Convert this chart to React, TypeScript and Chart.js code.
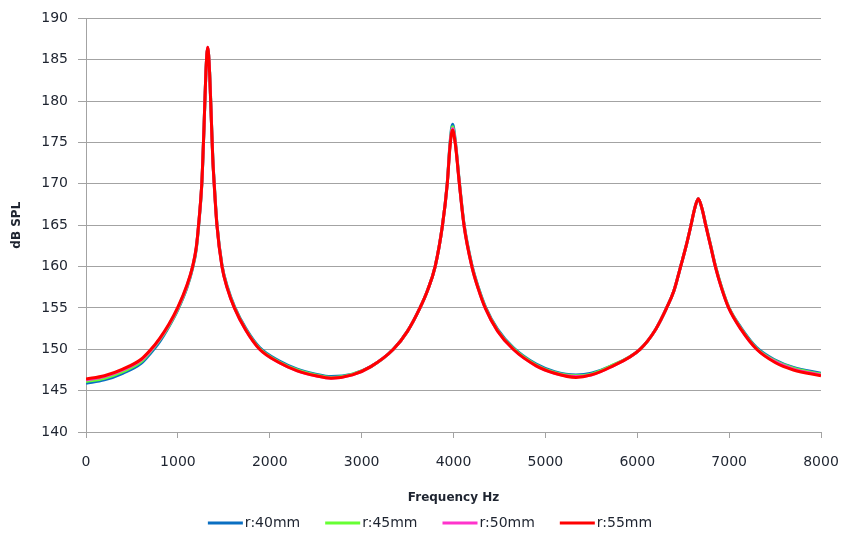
import React, { useEffect, useRef } from "react";
import { Chart, registerables } from "chart.js";

Chart.register(...registerables);

// Frequency grid (Hz)
const FREQ = [
  0, 200, 400, 600, 700, 800, 900, 1000, 1100, 1160,
  1200, 1225, 1260, 1270, 1285, 1305, 1325, 1345, 1365, 1380,
  1395, 1425, 1480, 1540, 1615, 1740, 1890, 2100, 2300, 2500,
  2667, 2900, 3100, 3345, 3500, 3635, 3720, 3800, 3880, 3932,
  3962, 3990, 4020, 4064, 4114, 4200, 4270, 4345, 4480, 4650,
  4900, 5100, 5333, 5500, 5700, 6030, 6200, 6320, 6400, 6472,
  6530, 6585, 6625, 6664, 6705, 6745, 6800, 6850, 6920, 6995,
  7130, 7300, 7500, 7700, 8000,
];

// dB SPL, r = 40 mm
const R40 = [
  145.9, 146.3, 147.1, 148.3, 149.5, 150.9, 152.7, 154.8, 157.5, 159.8,
  162.1, 164.8, 169.8, 172.4, 176.9, 183.4, 186.4, 183.6, 177.7, 173.2,
  170.2, 165.2, 160.2, 157.5, 155.2, 152.5, 150.2, 148.6, 147.6, 147.0,
  146.7, 147.0, 147.9, 150.0, 152.2, 155.0, 157.2, 160.0, 165.0, 170.1,
  174.9, 177.2, 175.2, 170.2, 165.2, 160.2, 157.5, 155.2, 152.4, 150.2,
  148.2, 147.3, 146.9, 147.1, 147.9, 150.0, 152.4, 155.0, 157.1, 160.0,
  162.4, 165.0, 167.0, 168.2, 167.0, 165.1, 162.5, 160.1, 157.4, 155.1,
  152.6, 150.2, 148.7, 147.8, 147.1,
];

// dB SPL, r = 45 mm
const R45 = [
  146.1, 146.5, 147.3, 148.5, 149.7, 151.1, 152.8, 154.9, 157.6, 159.9,
  162.2, 164.9, 169.9, 172.5, 177.0, 183.5, 186.4, 183.6, 177.6, 173.1,
  170.1, 165.1, 160.1, 157.4, 155.1, 152.4, 150.1, 148.5, 147.5, 146.9,
  146.6, 147.0, 147.9, 150.0, 152.2, 155.0, 157.2, 160.0, 165.0, 170.0,
  174.7, 176.9, 175.0, 170.1, 165.1, 160.1, 157.4, 155.1, 152.3, 150.1,
  148.1, 147.2, 146.8, 147.0, 147.9, 150.0, 152.4, 155.0, 157.1, 160.0,
  162.4, 165.0, 167.0, 168.2, 167.0, 165.1, 162.5, 160.1, 157.4, 155.1,
  152.5, 150.1, 148.6, 147.7, 147.0,
];

// dB SPL, r = 50 mm
const R50 = [
  146.3, 146.7, 147.5, 148.7, 149.8, 151.2, 152.9, 155.0, 157.7, 160.0,
  162.3, 165.0, 170.0, 172.5, 177.0, 183.5, 186.5, 183.5, 177.5, 173.0,
  170.0, 165.0, 160.0, 157.3, 155.0, 152.3, 150.0, 148.4, 147.4, 146.8,
  146.5, 146.9, 147.9, 150.0, 152.2, 155.0, 157.2, 160.0, 165.0, 170.0,
  174.6, 176.7, 174.9, 170.0, 165.0, 160.0, 157.3, 155.0, 152.2, 150.0,
  148.0, 147.1, 146.7, 146.9, 147.8, 150.0, 152.4, 155.0, 157.1, 160.0,
  162.4, 165.0, 167.0, 168.2, 167.0, 165.0, 162.4, 160.0, 157.3, 155.0,
  152.4, 150.0, 148.5, 147.6, 146.9,
];

// dB SPL, r = 55 mm
const R55 = [
  146.4, 146.8, 147.6, 148.8, 149.9, 151.3, 153.0, 155.1, 157.8, 160.0,
  162.3, 165.0, 170.0, 172.5, 177.0, 183.5, 186.5, 183.5, 177.5, 173.0,
  170.0, 165.0, 160.0, 157.3, 155.0, 152.3, 150.0, 148.4, 147.4, 146.8,
  146.5, 146.9, 147.9, 150.0, 152.2, 155.0, 157.2, 160.0, 165.0, 170.0,
  174.5, 176.5, 174.8, 170.0, 165.0, 160.0, 157.3, 155.0, 152.2, 150.0,
  148.0, 147.1, 146.6, 146.9, 147.8, 150.0, 152.4, 155.0, 157.1, 160.0,
  162.4, 165.0, 167.0, 168.2, 167.0, 165.0, 162.4, 160.0, 157.3, 155.0,
  152.4, 150.0, 148.4, 147.5, 146.8,
];

const SERIES_LABELS = ["r:40mm", "r:45mm", "r:50mm", "r:55mm"];
const SERIES_COLORS = ["#0a6fc2", "#66ff33", "#ff33cc", "#ff0000"];
const SERIES_VALUES = [R40, R45, R50, R55];

const X_TITLE = "Frequency Hz";
const Y_TITLE = "dB SPL";

const FONT = "'DejaVu Sans', sans-serif";
const GRID = "#a3a3a3";
const TEXT = "#1e2430";

const bottomLegend = {
  id: "bottomLegend",
  afterDraw(chart: any) {
    const ctx = chart.ctx;
    const ds = chart.data.datasets;
    ctx.save();
    ctx.font = `14px ${FONT}`;
    const sample = 35;
    const gapText = 2;
    const gapItem = 25;
    const widths = ds.map((d: any) => sample + gapText + ctx.measureText(d.label).width);
    const total = widths.reduce((a: number, b: number) => a + b, 0) + gapItem * (ds.length - 1);
    const center = 430;
    let x = center - total / 2;
    const y = 523;
    ds.forEach((d: any, i: number) => {
      ctx.strokeStyle = d.borderColor;
      ctx.lineWidth = 3;
      ctx.beginPath();
      ctx.moveTo(x, y);
      ctx.lineTo(x + sample, y);
      ctx.stroke();
      ctx.fillStyle = TEXT;
      ctx.textBaseline = "middle";
      ctx.textAlign = "left";
      ctx.fillText(d.label, x + sample + gapText, y);
      x += widths[i] + gapItem;
    });
    ctx.restore();
  },
};

export default function App() {
  const ref = useRef<HTMLCanvasElement | null>(null);

  useEffect(() => {
    if (!ref.current) return;
    const datasets = SERIES_VALUES.map((vals, i) => ({
      label: SERIES_LABELS[i],
      data: FREQ.map((f, j) => ({ x: f, y: vals[j] })),
      borderColor: SERIES_COLORS[i],
      backgroundColor: SERIES_COLORS[i],
      borderWidth: 3,
      pointRadius: 0,
      cubicInterpolationMode: "monotone" as const,
      fill: false,
      order: SERIES_VALUES.length - i,
    }));

    const chart = new Chart(ref.current, {
      type: "line",
      data: { datasets },
      plugins: [bottomLegend],
      options: {
        animation: false,
        responsive: false,
        maintainAspectRatio: false,
        layout: { padding: { left: 0, right: 20, top: 15, bottom: 0 } },
        plugins: {
          legend: { display: false },
          tooltip: { enabled: false },
        },
        scales: {
          x: {
            type: "linear",
            min: 0,
            max: 8000,
            ticks: {
              stepSize: 1000,
              padding: 16,
              color: TEXT,
              font: { family: FONT, size: 14 },
              maxRotation: 0,
              callback: (v: any) => String(v),
            },
            grid: {
              drawOnChartArea: false,
              drawTicks: true,
              tickLength: 6,
              color: GRID,
              lineWidth: 1,
            },
            border: { display: true, color: GRID, width: 1 },
            title: {
              display: true,
              text: X_TITLE,
              color: TEXT,
              font: { family: FONT, size: 12, weight: "bold" },
              padding: { top: 4, bottom: 30 },
            },
            afterFit(scale: any) {
              scale.height = 103;
              scale.paddingLeft = 0;
              scale.paddingRight = 18;
            },
          },
          y: {
            min: 140,
            max: 190,
            ticks: {
              stepSize: 5,
              padding: 10,
              color: TEXT,
              font: { family: FONT, size: 14 },
              callback: (v: any) => String(v),
            },
            grid: {
              drawOnChartArea: true,
              drawTicks: true,
              tickLength: 8,
              color: GRID,
              lineWidth: 1,
            },
            border: { display: true, color: GRID, width: 1 },
            title: {
              display: true,
              text: Y_TITLE,
              color: TEXT,
              font: { family: FONT, size: 12, weight: "bold" },
              padding: { top: 10, bottom: 4 },
            },
            afterFit(scale: any) {
              scale.width = 86;
            },
          },
        },
      },
    });
    return () => chart.destroy();
  }, []);

  return (
    <div style={{ position: "absolute", left: 0, top: 0, width: 841, height: 535, background: "#fff" }}>
      <canvas ref={ref} width={841} height={535} style={{ width: 841, height: 535, display: "block" }} />
    </div>
  );
}
